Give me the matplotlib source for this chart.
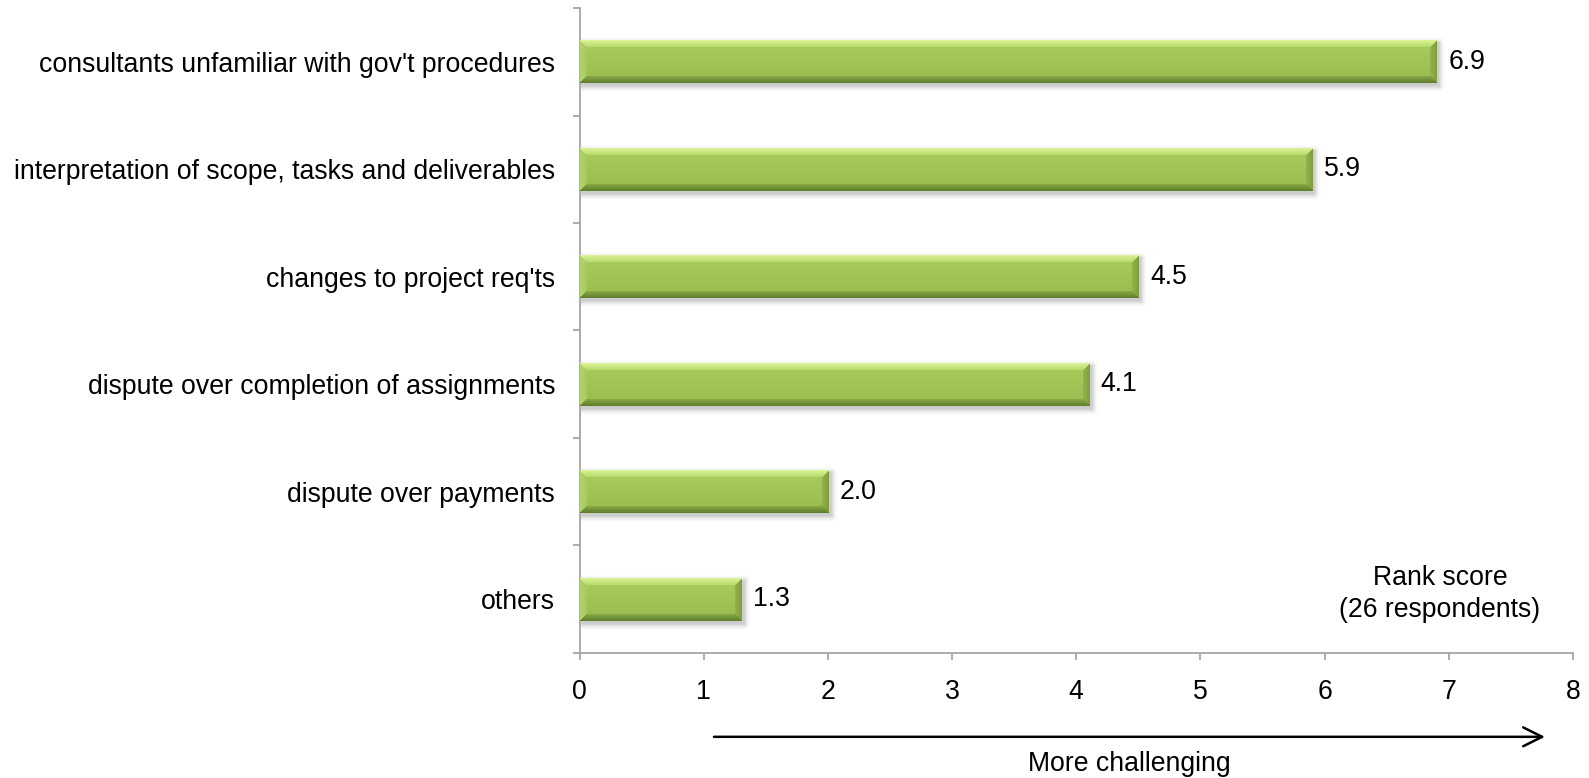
import numpy as np
import matplotlib.pyplot as plt
from matplotlib.colors import to_rgb
from matplotlib.transforms import blended_transform_factory

# Challenges with consultants, ranked
categories = [
    "consultants unfamiliar with gov't procedures",
    "interpretation of scope, tasks and deliverables",
    "changes to project req'ts",
    "dispute over completion of assignments",
    "dispute over payments",
    "others",
]
scores = [6.9, 5.9, 4.5, 4.1, 2.0, 1.3]
x_ticks = [0, 1, 2, 3, 4, 5, 6, 7, 8]

plt.rcParams['font.family'] = ['Liberation Sans', 'DejaVu Sans']
FS = 19.2
AXIS_GREY = '#a6a6a6'


def mix(c1, c2, t):
    c1 = np.array(to_rgb(c1))
    c2 = np.array(to_rgb(c2))
    return c1 * (1 - t) + c2 * t


def bevel_face(w_px, h_px, depth=7.0):
    """RGB texture for a bevelled green bar, w_px x h_px pixels."""
    w = max(int(round(w_px)), 2)
    h = max(int(round(h_px)), 2)
    U, V = np.meshgrid(np.arange(w) + 0.5, np.arange(h) + 0.5)
    t = (V / h)[..., None]
    img = mix('#aacd5f', '#97bb4e', t)

    dist = np.stack([V, h - V, U, w - U])
    face = np.argmin(dist, axis=0)
    s = np.clip(dist.min(axis=0) / depth, 0, 1)[..., None]
    faces = [
        ('#dcf496', '#b7da6e'),   # top
        ('#5f7d2c', '#88aa45'),   # bottom
        ('#b4d46c', '#a6c95e'),   # left
        ('#7d9d3b', '#92b54b'),   # right
    ]
    inside = (dist.min(axis=0) < depth)[..., None]
    for k, (edge, inner) in enumerate(faces):
        sel = (face == k)[..., None] & inside
        img = np.where(sel, mix(edge, inner, s), img)
    return img


def shadow_rgba(w_px, h_px, dx=2.0, dy=3.0, blur=7.0, pad=12):
    """Soft grey drop shadow texture covering the bar plus a margin."""
    w = int(round(w_px)) + 2 * pad
    h = int(round(h_px)) + 2 * pad
    U, V = np.meshgrid(np.arange(w) + 0.5, np.arange(h) + 0.5)
    x0, x1 = pad + dx, pad + dx + w_px
    y0, y1 = pad + dy, pad + dy + h_px
    ox = np.maximum(np.maximum(x0 - U, U - x1), 0)
    oy = np.maximum(np.maximum(y0 - V, V - y1), 0)
    d = np.hypot(ox, oy)
    a = 0.35 * np.clip(1 - d / blur, 0, 1) ** 2
    img = np.zeros((h, w, 4))
    img[..., :3] = 0.45
    img[..., 3] = a
    return img


fig = plt.figure(figsize=(15.89, 7.78), dpi=100)
ax = fig.add_axes([0.3647, 0.1607, 0.6252, 0.829])

ax.set_xlim(0, 8)
ax.set_ylim(len(categories) - 0.5, -0.5)

bar_h = 0.4
ypos = np.arange(len(categories))
bars = ax.barh(ypos, scores, height=bar_h, color='#9bbb59', zorder=3)

# pixel scale of the axes for the textures
fig.canvas.draw()
bb = ax.get_window_extent()
px_x = bb.width / 8.0
px_y = bb.height / len(categories)

for rect, val in zip(bars, scores):
    y = rect.get_y() + bar_h / 2
    w_px = val * px_x
    h_px = bar_h * px_y
    ax.imshow(bevel_face(w_px, h_px), extent=(0, val, y + bar_h / 2, y - bar_h / 2),
              aspect='auto', interpolation='bilinear', zorder=4)
    pad = 12
    ax.imshow(shadow_rgba(w_px, h_px, pad=pad),
              extent=(-pad / px_x, val + pad / px_x,
                      y + bar_h / 2 + pad / px_y, y - bar_h / 2 - pad / px_y),
              aspect='auto', interpolation='bilinear', zorder=2)
    ax.text(val + 12 / px_x, y, f"{val:.1f}", va='center', ha='left',
            fontsize=FS, zorder=5)

ax.set_xlim(0, 8)
ax.set_ylim(len(categories) - 0.5, -0.5)

# axes styling
for side in ('top', 'right'):
    ax.spines[side].set_visible(False)
for side in ('left', 'bottom'):
    ax.spines[side].set_color(AXIS_GREY)
    ax.spines[side].set_linewidth(1.3)

ax.set_xticks(x_ticks)
ax.set_xticklabels([str(v) for v in x_ticks], fontsize=FS)
ax.tick_params(axis='x', length=5, width=1.3, color=AXIS_GREY, pad=14)

ax.set_yticks(ypos)
ax.set_yticklabels(categories, fontsize=FS)
ax.set_yticks(np.arange(-0.5, len(categories), 1), minor=True)
ax.tick_params(axis='y', which='major', length=0, pad=17.5)
ax.tick_params(axis='y', which='minor', length=5, width=1.3, color=AXIS_GREY)

# direction arrow under the x axis
trans = blended_transform_factory(ax.transData, ax.transAxes)
ax.annotate('', xy=(7.774, -0.130), xytext=(1.083, -0.130), xycoords=trans,
            textcoords=trans,
            arrowprops=dict(arrowstyle='->', lw=1.8, color='black', mutation_scale=34,
                            shrinkA=0, shrinkB=0))
ax.text(4.424, -0.183, "More challenging", transform=trans, ha='center',
        va='baseline', fontsize=FS)

ax.text(6.928, 0.1054, "Rank score", transform=trans, ha='center', va='baseline',
        fontsize=FS)
ax.text(6.928, 0.0558, "(26 respondents)", transform=trans, ha='center',
        va='baseline', fontsize=FS)

fig.savefig("out.png", dpi=100)
